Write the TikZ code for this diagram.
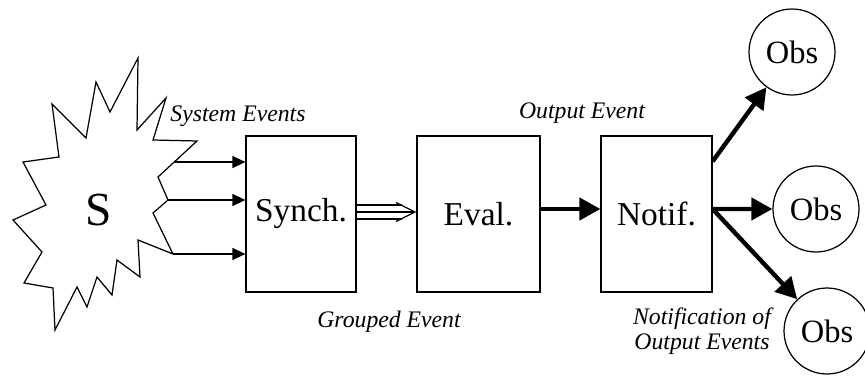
\documentclass[tikz,border=0pt]{standalone}
\usepackage{fontspec}
\setmainfont{Liberation Serif}
\usetikzlibrary{arrows.meta}

\begin{document}
\begin{tikzpicture}[x=0.02cm, y=-0.02cm, line width=0.7pt,
		box/.style={draw, minimum height=3.12cm, font=\fontsize{19}{22}\selectfont},
		obs/.style={circle, draw, minimum size=1.72cm, inner sep=0pt, font=\fontsize{18.5}{21}\selectfont},
		lbl/.style={font=\itshape\fontsize{13.5}{16}\selectfont, align=center},
		thinarrow/.style={-{Triangle[length=0.26cm, width=0.24cm]}},
		fatarrow/.style={line width=2.5pt, -{Triangle[length=0.42cm, width=0.44cm]}}]
	\useasboundingbox (0,0) rectangle (865,378);
	% Source
	\draw (138,58) -- (137,130) -- (166,98) -- (153,140) -- (197,141) -- (158,177) -- (168,200) -- (153,213) -- (173,254) -- (138,240) -- (140,277) -- (117,260) -- (112,295) -- (97,277) -- (87,307) -- (77,287) -- (55,330) -- (53,288) -- (24,283) -- (42,252) -- (13,220) -- (46,205) -- (23,162) -- (59,157) -- (52,104) -- (86,138) -- (96,82) -- (110,112) -- cycle;
	\node[font=\fontsize{27}{30}\selectfont] (S) at (99,210) {S};
	\coordinate (s1) at (175,162);
	\coordinate (s2) at (168,200);
	\coordinate (s3) at (173,254);
	% Nodes
	\node[box, minimum width=2.2cm] (synch) at (301,214) {Synch.};
	\node[box, minimum width=2.46cm] (eval) at (478.5,214) {Eval.};
	\node[box, minimum width=2.22cm] (notif) at (656.5,214) {Notif.};
	\node[obs] (obs1) at (792,52) {Obs};
	\node[obs] (obs2) at (816,209) {Obs};
	\node[obs] (obs3) at (827,331) {Obs};
	% Labels
	\node[lbl] (sysev) at (238,116) {System Events};
	\node[lbl] (outev) at (582,113) {Output Event};
	\node[lbl] (grpev) at (389,322) {Grouped Event};
	\node[lbl] (notev) at (702,331) {Notification of\\[-2pt]Output Events};
	% Edges
	\draw[thinarrow] (s1) -- (s1 -| synch.west);
	\draw[thinarrow] (s2) -- (s2 -| synch.west);
	\draw[thinarrow] (s3) -- (s3 -| synch.west);
	\draw[-{Straight Barb[length=0.38cm, width=0.38cm]}] ([yshift=0.04cm]synch.east) -- ([yshift=0.04cm]eval.west);
	\draw ([yshift=0.18cm]synch.east) -- ([xshift=-0.28cm, yshift=0.18cm]eval.west);
	\draw ([yshift=-0.1cm]synch.east) -- ([xshift=-0.28cm, yshift=-0.1cm]eval.west);
	\draw[fatarrow] ([yshift=0.1cm]eval.east) -- ([yshift=0.1cm]notif.west);
	\draw[fatarrow] ([yshift=-0.52cm]notif.north east) -- (obs1);
	\draw[fatarrow] ([yshift=0.1cm]notif.east) -- (obs2);
	\draw[fatarrow] ([yshift=0.1cm]notif.east) -- (obs3);
\end{tikzpicture}
\end{document}
